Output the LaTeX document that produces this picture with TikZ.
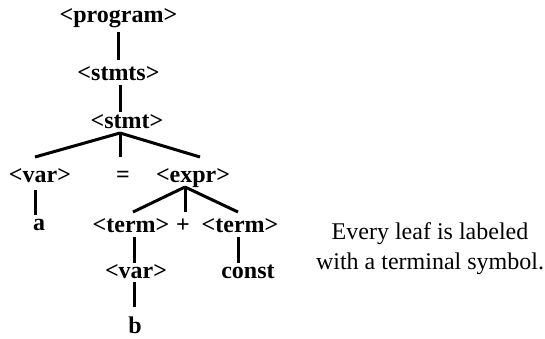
\documentclass[tikz,border=0pt]{standalone}
\usepackage{fontspec}
\setmainfont{Liberation Serif}
\begin{document}
\begin{tikzpicture}[x=1pt,y=-1pt,
  sym/.style={font=\fontsize{24}{28}\selectfont\bfseries, anchor=base, inner sep=0pt},
  note/.style={font=\fontsize{24}{28}\selectfont, anchor=base, inner sep=0pt},
  edge/.style={line width=3pt, line cap=butt}]
\useasboundingbox (0,0) rectangle (545,338);

% parse tree symbols (placed on their baselines)
\node[sym] (program) at (118.5,22) {<program>};
\node[sym] (stmts)   at (118.5,80) {<stmts>};
\node[sym] (stmt)    at (127,128) {<stmt>};
\node[sym] (var)     at (40,182)  {<var>};
\node[sym] (eq)      at (123,182) {=};
\node[sym] (expr)    at (193,182) {<expr>};
\node[sym] (a)       at (39,230)  {a};
\node[sym] (term1)   at (131,232) {<term>};
\node[sym] (plus)    at (183,232) {+};
\node[sym] (term2)   at (240,232) {<term>};
\node[sym] (var2)    at (136,278) {<var>};
\node[sym] (const)   at (248,278) {const};
\node[sym] (b)       at (135,333) {b};

% caption
\node[note] (cap1) at (430,239) {Every leaf is labeled};
\node[note] (cap2) at (430,269) {with a terminal symbol.};

% tree edges
\draw[edge] ([yshift=-10pt]program.base) -- ([yshift=20pt]stmts.base);
\draw[edge] ([xshift=1.5pt,yshift=-5pt]stmts.base) -- ([xshift=-7pt,yshift=16pt]stmt.base);
\draw[edge] ([xshift=-7pt,yshift=-5pt]stmt.base) -- ([xshift=-5pt,yshift=25pt]var.base);
\draw[edge] ([xshift=-7pt,yshift=-5pt]stmt.base) -- ([xshift=-3pt,yshift=25pt]eq.base);
\draw[edge] ([xshift=-7pt,yshift=-5pt]stmt.base) -- ([xshift=7pt,yshift=25pt]expr.base);
\draw[edge] ([xshift=-5pt,yshift=-8pt]var.base) -- ([xshift=-4pt,yshift=15pt]a.base);
\draw[edge] ([xshift=-8pt,yshift=-5pt]expr.base) -- ([xshift=2pt,yshift=20pt]term1.base);
\draw[edge] ([xshift=-8pt,yshift=-5pt]expr.base) -- ([xshift=2pt,yshift=20pt]plus.base);
\draw[edge] ([xshift=-8pt,yshift=-5pt]expr.base) -- ([xshift=-2pt,yshift=20pt]term2.base);
\draw[edge] ([xshift=3pt,yshift=-5pt]term1.base) -- ([xshift=-2pt,yshift=15pt]var2.base);
\draw[edge] ([xshift=-2pt,yshift=-4pt]var2.base) -- ([xshift=-1pt,yshift=26pt]b.base);
\draw[edge] ([xshift=-2pt,yshift=-5pt]term2.base) -- ([xshift=-10pt,yshift=15pt]const.base);
\end{tikzpicture}
\end{document}
